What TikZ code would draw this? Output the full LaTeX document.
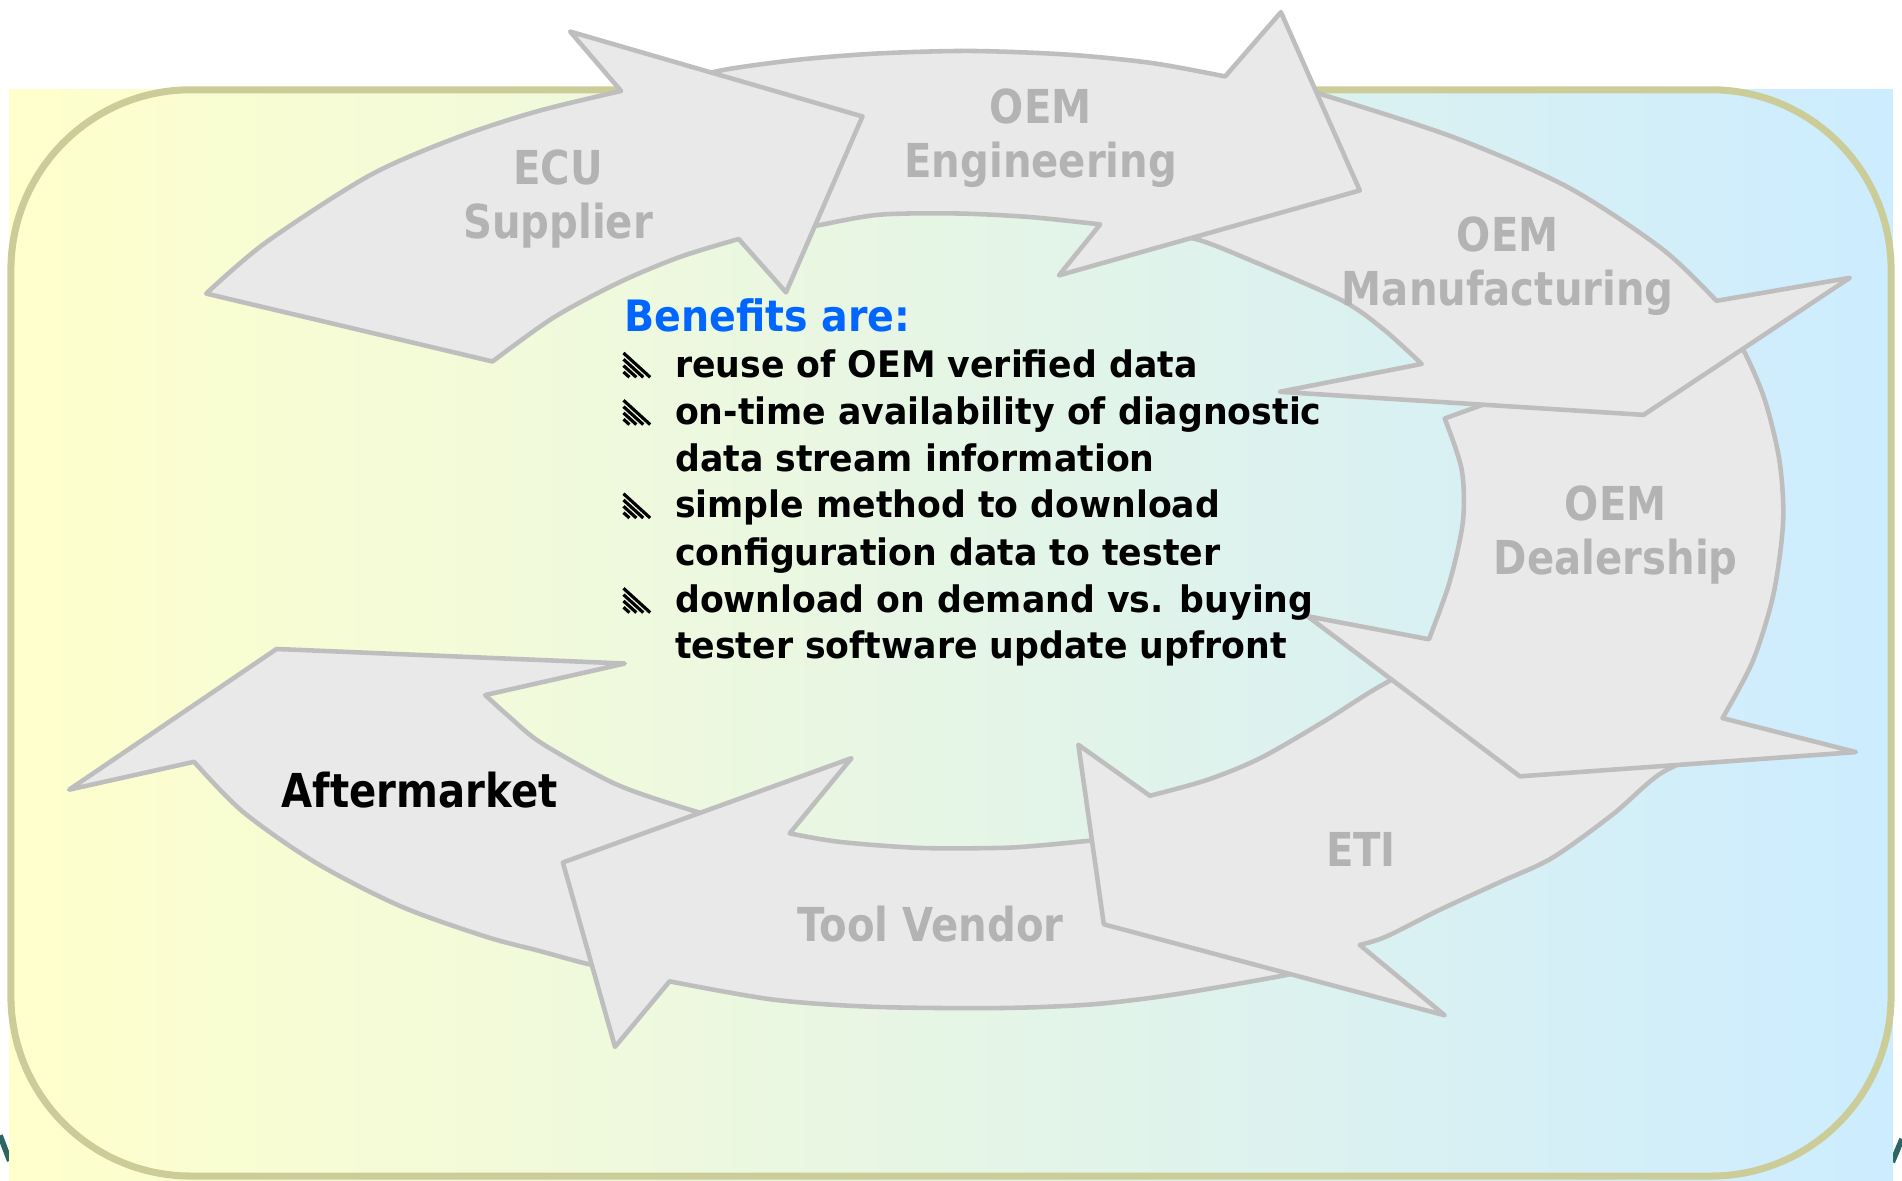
\documentclass[tikz,border=0pt]{standalone}
\usepackage{fontspec}
\setmainfont{DejaVu Sans}
\newfontfamily\tah[FakeStretch=0.86]{DejaVu Sans}
\newfontfamily\tahlist[FakeStretch=0.95]{DejaVu Sans}
\newfontfamily\tahhead[FakeStretch=0.915]{DejaVu Sans}
\definecolor{bgY}{HTML}{FFFFCC}
\definecolor{bgB}{HTML}{CCECFF}
\definecolor{frame}{HTML}{CCCC99}
\definecolor{arrfill}{HTML}{E9E9E9}
\definecolor{arrline}{HTML}{BEBEBE}
\definecolor{lblgray}{HTML}{B3B3B3}
\definecolor{headblue}{HTML}{0066FF}
\definecolor{edgeteal}{HTML}{2E6464}
\tikzset{
  cyc/.style={fill=arrfill, draw=arrline, line width=1.3pt, line join=round},
  lbl/.style={font=\tah\bfseries\fontsize{13.3}{15.4}\selectfont, text=lblgray, align=center, inner sep=0pt},
  item/.style={font=\tahlist\bfseries\fontsize{10.4}{13.4}\selectfont, anchor=base west, inner sep=0pt},
  hatch/.pic={
    \foreach \k in {0,1,2,3}
      \draw[line width=0.9pt] (0,-20+5.2*\k) -- (22-5.7*\k,0);
  }
}
\begin{document}
\begin{tikzpicture}[x=0.01213cm, y=-0.01213cm]
\useasboundingbox (0,0) rectangle (1568,973);

% slivers of neighbouring shapes at the lower corners
\draw[edgeteal, line width=1.6pt] (0,936) -- (8,957);
\draw[edgeteal, line width=1.6pt] (1560,958) -- (1568,939);

% background panel with rounded frame
\shade[left color=bgY, right color=bgB] (7.5,73.5) rectangle (1560.5,973);
\draw[frame, line width=2pt, rounded corners=1.8cm] (9,74) rectangle (1559,969.5);

% Aftermarket
\draw[cyc] plot[smooth] coordinates {(525,802) (486,795) (445,784) (400,772) (330,747) (260,711) (200,669) (160,628)}
  -- (57,651) -- (228,535) -- (515,547) --
  plot[smooth] coordinates {(400,573) (420,591) (447,613) (509,647) (577,670) (615,679)} -- cycle;

% Tool Vendor
\draw[cyc] plot[smooth] coordinates {(1085,798) (1054,805) (967,820) (900,828) (824,831) (720,830) (637,824) (552,809)}
  -- (507,863) -- (464,711) -- (702,625) --
  plot[smooth] coordinates {(651,687) (692,694) (758,699) (824,699) (857,697) (899,693) (930,690)} -- cycle;

% ETI
\draw[cyc] plot[smooth] coordinates {(1420,615) (1370,637) (1330,671) (1280,707) (1237,727) (1187,750) (1143,772) (1121,779)}
  -- (1191,837) -- (910,762) -- (889,614) --
  plot[smooth] coordinates {(948,656) (995,643) (1039,625) (1091,595) (1132,569) (1170,548)} -- cycle;

% OEM Dealership
\draw[cyc] plot[smooth] coordinates {(1420,262) (1438,290) (1455,330) (1467,380) (1470,430) (1462,490) (1445,545) (1420,592)}
  -- (1530,620) -- (1253,640) -- (1078,508) --
  plot[smooth] coordinates {(1178,527) (1195,480) (1206,430) (1205,387) (1191,345)} -- cycle;

% OEM Manufacturing
\draw[cyc] plot[smooth] coordinates {(1060,70) (1087,77) (1198,113) (1292,154) (1370,205) (1415,248)}
  -- (1525,229) -- (1355,342) -- (1055,323) --
  plot[smooth] coordinates {(1172,300) (1140,271) (1105,247) (1025,212) (989,198) (960,192)} -- cycle;

% OEM Engineering
\draw[cyc] plot[smooth] coordinates {(560,66) (600,57) (660,49) (725,44) (800,42) (880,45) (950,52) (1010,63)}
  -- (1056,10) -- (1121,157) -- (873,227) --
  plot[smooth] coordinates {(907,185) (850,179) (790,176) (725,177) (673,186) (640,192)} -- cycle;

% ECU Supplier
\draw[cyc] plot[smooth] coordinates {(170,242) (219,200) (304,145) (375,114) (442,92) (512,75)}
  -- (470,26) -- (711,96) -- (648,241) --
  plot[smooth] coordinates {(609,197) (560,212) (510,233) (456,262) (406,298)} -- cycle;

% stage labels
\node[lbl] (ecu)  at (460,164) {ECU\\Supplier};
\node[lbl] (eng)  at (858,114) {OEM\\Engineering};
\node[lbl] (man)  at (1243,219.5) {OEM\\Manufacturing};
\node[lbl] (dea)  at (1332,441) {OEM\\Dealership};
\node[lbl] (eti)  at (1122,700) {ETI};
\node[lbl] (tool) at (767,762) {Tool Vendor};
\node[lbl, text=black] (aft) at (346,651) {Aftermarket};

% benefits list
\node[item, font=\tahhead\bfseries\fontsize{12.3}{14}\selectfont, text=headblue] (bh) at (514,273) {Benefits are:};
\node[item] (b1) at (556,311) {reuse of OEM verified data};
\node[item] (b2) at (556,350) {on-time availability of diagnostic};
\node[item] (b3) at (556,389) {data stream information};
\node[item] (b4) at (556,427) {simple method to download};
\node[item] (b5) at (556,466) {configuration data to tester};
\node[item] (b6) at (556,505) {download on demand vs. buying};
\node[item] (b7) at (556,543) {tester software update upfront};
\pic at (514,311) {hatch};
\pic at (514,350) {hatch};
\pic at (514,427) {hatch};
\pic at (514,505) {hatch};
\end{tikzpicture}
\end{document}
